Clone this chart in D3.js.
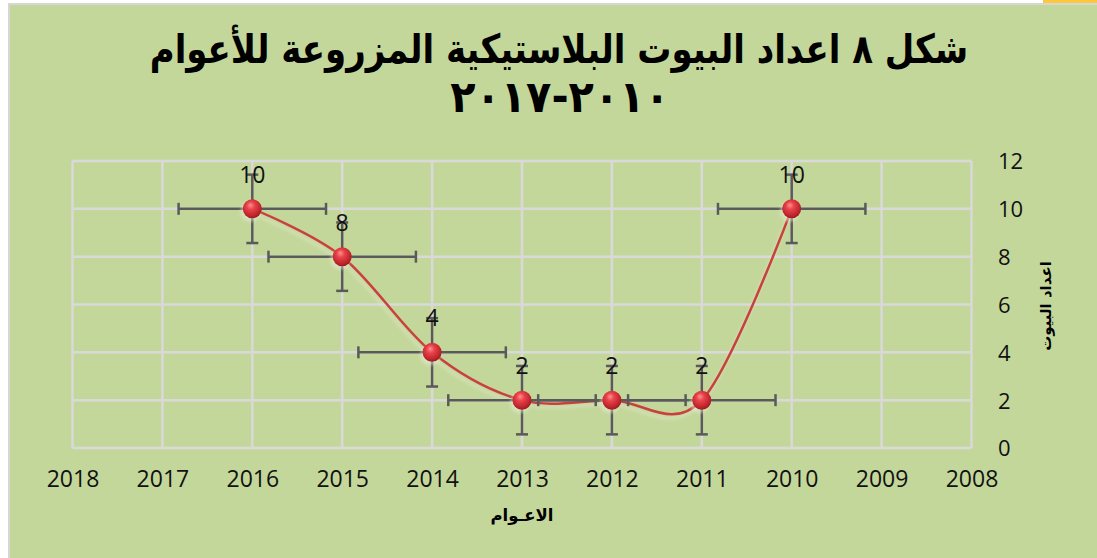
<!DOCTYPE html>
<html>
<head>
<meta charset="utf-8">
<script src="https://cdn.jsdelivr.net/npm/d3@7/dist/d3.min.js"></script>
<style>
  body { margin: 0; background: #fff; }
  .num { font-family: "Open Sans", sans-serif; fill: #111; }
  .ar { font-family: "DejaVu Sans", sans-serif; font-weight: bold; fill: #000; }
</style>
</head>
<body>
<svg id="chart" width="1097" height="558"></svg>
<script>
// data
var years = [2016, 2015, 2014, 2013, 2012, 2011, 2010]
var houses = [10, 8, 4, 2, 2, 2, 10]
var xTicks = [2018, 2017, 2016, 2015, 2014, 2013, 2012, 2011, 2010, 2009, 2008]
var yTicks = [0, 2, 4, 6, 8, 10, 12]
var xErr = 0.82   // standard error bars, years
var yErr = 1.43   // standard error bars, houses
var titleLines = ["شكل ٨ اعداد البيوت البلاستيكية المزروعة للأعوام", "٢٠١٠-٢٠١٧"]
var xTitle = "الاعـوام"
var yTitle = "اعداد البيوت"

var points = years.map((y, i) => ({year: y, value: houses[i]}))

var svg = d3.select("#chart")

// chart area
svg.append("rect").attr("x", 8).attr("y", 3).attr("width", 1100).attr("height", 560)
    .attr("fill", "#d6d6d6")
svg.append("rect").attr("x", 10).attr("y", 5).attr("width", 1100).attr("height", 560)
    .attr("fill", "#c4d79b")
svg.append("rect").attr("x", 1043).attr("y", 0).attr("width", 60).attr("height", 3)
    .attr("fill", "#fdc93b")

var xScale = d3.scaleLinear().domain([2018, 2008]).range([72.5, 971.5])
var yScale = d3.scaleLinear().domain([0, 12]).range([448, 161])

var defs = svg.append("defs")
var grad = defs.append("radialGradient").attr("id", "ball")
    .attr("cx", "45%").attr("cy", "40%").attr("r", "60%").attr("fx", "40%").attr("fy", "30%")
grad.append("stop").attr("offset", "0%").attr("stop-color", "#ff8f8f")
grad.append("stop").attr("offset", "35%").attr("stop-color", "#e8434a")
grad.append("stop").attr("offset", "80%").attr("stop-color", "#c0262c")
grad.append("stop").attr("offset", "100%").attr("stop-color", "#9c1c20")
defs.append("filter").attr("id", "soft").append("feGaussianBlur").attr("stdDeviation", 1.5)

// gridlines
var grid = svg.append("g").attr("stroke", "#d9d9d9").attr("stroke-width", 2.5)
grid.selectAll(".v").data(xTicks).enter().append("line")
    .attr("x1", d => xScale(d)).attr("x2", d => xScale(d))
    .attr("y1", yScale(12)).attr("y2", yScale(0))
grid.selectAll(".h").data(yTicks).enter().append("line")
    .attr("y1", d => yScale(d)).attr("y2", d => yScale(d))
    .attr("x1", xScale(2018)).attr("x2", xScale(2008))

// axes (text only, Excel style)
var xAxis = d3.axisBottom(xScale).tickValues(xTicks).tickFormat(d3.format("d")).tickSize(0).tickPadding(0)
svg.append("g").attr("transform", "translate(0,487)").call(xAxis)
    .call(g => g.select(".domain").remove())
    .selectAll("text").attr("class", "num").attr("font-size", 23).attr("dy", 0).attr("fill", "#111")

var yAxis = d3.axisRight(yScale).tickValues(yTicks).tickSize(0).tickPadding(0)
svg.append("g").attr("transform", "translate(998,0)").call(yAxis)
    .call(g => g.select(".domain").remove())
    .selectAll("text").attr("class", "num").attr("font-size", 22).attr("dy", "0.36em").attr("fill", "#111")

// smoothed line + faint shadow
var line = d3.line().x(d => xScale(d.year)).y(d => yScale(d.value)).curve(d3.curveCardinal.tension(0))
svg.append("path").datum(points).attr("d", line)
    .attr("fill", "none").attr("stroke", "#e4ead0").attr("stroke-width", 2.5).attr("opacity", 0.5)
    .attr("transform", "translate(-2,4)").attr("filter", "url(#soft)")
svg.append("path").datum(points).attr("d", line)
    .attr("fill", "none").attr("stroke", "#c9403f").attr("stroke-width", 2.5)

// error bars
var err = svg.append("g").attr("stroke", "#5a5a5a").attr("stroke-width", 2.5)
var cap = 6
points.forEach(p => {
    var cx = xScale(p.year), cy = yScale(p.value)
    var x0 = xScale(p.year + xErr), x1 = xScale(p.year - xErr)
    var y0 = yScale(p.value + yErr), y1 = yScale(p.value - yErr)
    err.append("line").attr("x1", x0).attr("x2", x1).attr("y1", cy).attr("y2", cy)
    err.append("line").attr("x1", x0).attr("x2", x0).attr("y1", cy - cap).attr("y2", cy + cap)
    err.append("line").attr("x1", x1).attr("x2", x1).attr("y1", cy - cap).attr("y2", cy + cap)
    err.append("line").attr("x1", cx).attr("x2", cx).attr("y1", y0).attr("y2", y1)
    err.append("line").attr("x1", cx - cap).attr("x2", cx + cap).attr("y1", y0).attr("y2", y0)
    err.append("line").attr("x1", cx - cap).attr("x2", cx + cap).attr("y1", y1).attr("y2", y1)
})

// markers
svg.selectAll(".shadow").data(points).enter().append("circle")
    .attr("cx", d => xScale(d.year) - 2).attr("cy", d => yScale(d.value) + 3).attr("r", 10)
    .attr("fill", "#e8ecd8").attr("opacity", 0.5).attr("filter", "url(#soft)")
svg.selectAll(".ball").data(points).enter().append("circle")
    .attr("cx", d => xScale(d.year)).attr("cy", d => yScale(d.value)).attr("r", 9.5)
    .attr("fill", "url(#ball)")

// data labels
svg.selectAll(".lbl").data(points).enter().append("text")
    .attr("class", "num").attr("font-size", 23).attr("text-anchor", "middle")
    .attr("x", d => xScale(d.year)).attr("y", d => yScale(d.value) - 26)
    .attr("fill", "#000")
    .text(d => d.value)

// titles
svg.append("text").attr("class", "ar").attr("text-anchor", "middle")
    .attr("transform", "translate(559,63) scale(1,1.18)").attr("font-size", 34).text(titleLines[0])
svg.append("text").attr("class", "ar").attr("text-anchor", "middle")
    .attr("transform", "translate(560,112) scale(1.22,1.3)").attr("font-size", 34)
    .text(titleLines[1])

svg.append("text").attr("class", "ar").attr("text-anchor", "middle")
    .attr("x", 522).attr("y", 521).attr("font-size", 16.5).text(xTitle)
svg.append("text").attr("class", "ar").attr("text-anchor", "middle")
    .attr("transform", "translate(1051,306) rotate(-90)").attr("font-size", 15).text(yTitle)
</script>
</body>
</html>
